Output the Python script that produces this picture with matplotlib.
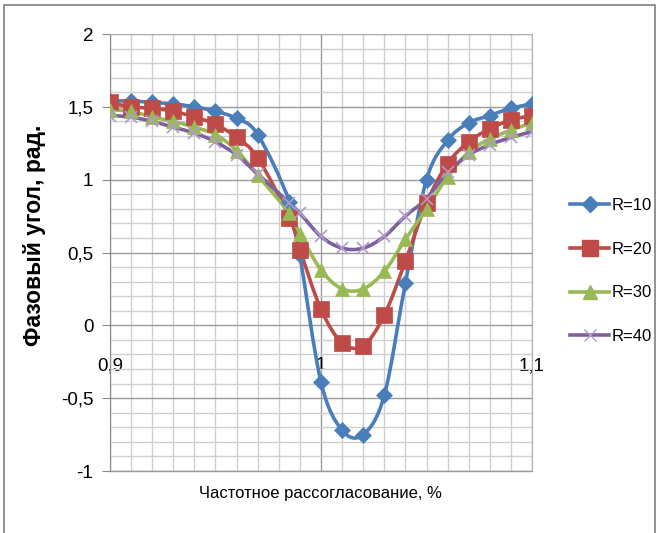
import matplotlib
matplotlib.use("Agg")
import matplotlib.pyplot as plt
import numpy as np
from matplotlib.path import Path
from matplotlib.patches import PathPatch, Rectangle
from matplotlib.ticker import MultipleLocator, FuncFormatter

plt.rcParams['font.family'] = ['Liberation Sans', 'DejaVu Sans']

# частотное рассогласование
x = [0.90, 0.91, 0.92, 0.93, 0.94, 0.95, 0.96, 0.97, 0.985, 0.99, 1.00,
     1.01, 1.02, 1.03, 1.04, 1.05, 1.06, 1.07, 1.08, 1.09, 1.10]

r10 = [1.54, 1.54, 1.53, 1.52, 1.50, 1.47, 1.42, 1.31, 0.85, 0.48, -0.39,
       -0.72, -0.75, -0.48, 0.29, 1.00, 1.27, 1.39, 1.44, 1.49, 1.52]
r20 = [1.53, 1.50, 1.49, 1.47, 1.43, 1.38, 1.29, 1.15, 0.74, 0.52, 0.11,
       -0.12, -0.14, 0.07, 0.44, 0.84, 1.11, 1.26, 1.35, 1.41, 1.44]
r30 = [1.48, 1.47, 1.43, 1.40, 1.36, 1.31, 1.20, 1.03, 0.77, 0.63, 0.38,
       0.25, 0.25, 0.37, 0.59, 0.80, 1.02, 1.19, 1.28, 1.34, 1.39]
r40 = [1.44, 1.43, 1.40, 1.36, 1.32, 1.26, 1.17, 1.04, 0.84, 0.77, 0.61,
       0.53, 0.53, 0.61, 0.75, 0.87, 1.05, 1.17, 1.24, 1.29, 1.33]

labels = ['R=10', 'R=20', 'R=30', 'R=40']
colors = ['#4a7ebb', '#be4b48', '#98b954', '#7d60a0']
mcolors = ['#4a7ebb', '#be4b48', '#98b954', '#b09cc8']
markers = ['D', 's', '^', 'x']
msizes = [8, 11, 10, 9]


def smooth_path(xs, ys):
    # сглаженная линия как в Excel (кривые Безье)
    xs = np.asarray(xs); ys = np.asarray(ys)
    pts = np.column_stack([xs, ys])
    n = len(pts)
    verts = [pts[0]]
    codes = [Path.MOVETO]
    for i in range(n - 1):
        p0 = pts[i - 1] if i > 0 else pts[i]
        p1 = pts[i]
        p2 = pts[i + 1]
        p3 = pts[i + 2] if i + 2 < n else pts[i + 1]
        c1 = p1 + (p2 - p0) / 6.0
        c2 = p2 - (p3 - p1) / 6.0
        verts += [c1, c2, p2]
        codes += [Path.CURVE4] * 3
    return Path(verts, codes)


fig = plt.figure(figsize=(6.59, 5.33), dpi=100)
fig.patches.append(Rectangle((0.006, -0.02), 0.988, 1.01, transform=fig.transFigure,
                             fill=False, edgecolor='#7f7f7f', linewidth=1.2))
ax = fig.add_axes([0.1669, 0.1163, 0.6404, 0.8199])

series = [r10, r20, r30, r40]
for ys, lab, c, mc, m, ms in zip(series, labels, colors, mcolors, markers, msizes):
    ax.add_patch(PathPatch(smooth_path(x, ys), fill=False, edgecolor=c, linewidth=2.6,
                           zorder=3, capstyle='round', joinstyle='round'))
    ax.plot(x, ys, linestyle='none', marker=m, markersize=ms, color=mc,
            markeredgecolor=mc, markeredgewidth=1.2 if m == 'x' else 0.5, zorder=4)
    # элемент легенды
    ax.plot([], [], color=c, linewidth=2.6, marker=m, markersize=ms,
            markerfacecolor=mc, markeredgecolor=mc, label=lab)

ax.set_xlim(0.9, 1.1)
ax.set_ylim(-1, 2)
ax.xaxis.set_major_locator(MultipleLocator(0.1))
ax.xaxis.set_minor_locator(MultipleLocator(0.01))
ax.yaxis.set_major_locator(MultipleLocator(0.5))
ax.yaxis.set_minor_locator(MultipleLocator(0.1))

comma = FuncFormatter(lambda v, p: ('%g' % round(v, 2)).replace('.', ','))
ax.xaxis.set_major_formatter(comma)
ax.yaxis.set_major_formatter(comma)

ax.grid(which='major', color='#9a9a9a', linewidth=1.0)
ax.grid(which='minor', color='#cfcfcf', linewidth=1.0)
ax.set_axisbelow(True)

for s in ['top', 'right']:
    ax.spines[s].set_color('#b0b0b0')
ax.spines['left'].set_color('#8a8a8a')
ax.spines['bottom'].set_position(('data', 0))
ax.spines['bottom'].set_visible(False)
ax.plot([0.9, 1.1], [-1, -1], color='#9a9a9a', linewidth=1.0, zorder=1, clip_on=False)

ax.tick_params(axis='x', which='both', length=0, pad=23, labelsize=13.5)
ax.tick_params(axis='y', which='major', length=6, color='#8a8a8a', labelsize=13.5, pad=6)
ax.tick_params(axis='y', which='minor', length=0)

ax.set_ylabel('Фазовый угол, рад.', fontsize=16.5, fontweight='bold')
ax.yaxis.set_label_coords(-0.152, 0.54)
fig.text(0.486, 0.075, 'Частотное рассогласование, %', fontsize=12, ha='center', va='center')

ax.legend(loc='upper left', bbox_to_anchor=(0.8555, 0.641), bbox_transform=fig.transFigure,
          frameon=False, fontsize=12, labelspacing=1.72, handlelength=2.3,
          handletextpad=0.15, borderaxespad=0)

fig.savefig('out.png', dpi=100)
